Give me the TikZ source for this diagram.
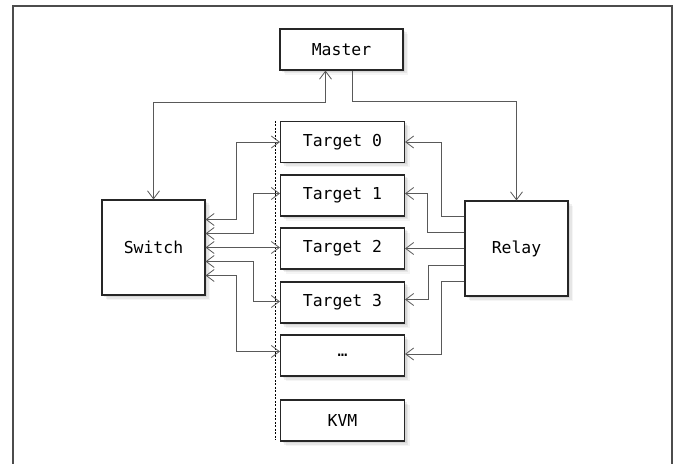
\documentclass[tikz,border=0pt]{standalone}
\usepackage{fontspec}
\setmonofont{DejaVu Sans Mono}
\usetikzlibrary{calc,arrows.meta,shadows}
\begin{document}
\begin{tikzpicture}[x=1bp,y=-1bp,
  box/.style={draw=black!85, line width=1.1bp, fill=white, inner sep=0pt,
    font=\ttfamily\fontsize{16.5}{19}\selectfont,
    drop shadow={opacity=0.08, shadow xshift=5bp, shadow yshift=-5bp},
    drop shadow={opacity=0.12, shadow xshift=3.5bp, shadow yshift=-3.5bp},
    drop shadow={opacity=0.15, shadow xshift=2bp, shadow yshift=-2bp}},
  tbox/.style={box, minimum width=124bp, minimum height=41bp},
  bigbox/.style={box, minimum width=103bp, minimum height=95bp},
  conn/.style={draw=black!65, line width=0.9bp, arrows={-{Straight Barb[length=8bp,width=12bp,line width=0.8bp]}}},
  conn2/.style={draw=black!65, line width=0.9bp, arrows={{Straight Barb[length=8bp,width=12bp,line width=0.8bp]}-{Straight Barb[length=8bp,width=12bp,line width=0.8bp]}}},
]
\useasboundingbox (0,0) rectangle (686,464);
\fill[white] (0,0) rectangle (686,464);
\draw[black!70, line width=1.4bp] (13,480) -- (13,6) -- (672,6) -- (672,480);

\node[box, minimum width=123bp, minimum height=41bp] (ma) at (341.5,49.5) {Master};
\node[tbox] (t0) at (342.5,142) {Target 0};
\node[tbox] (t1) at (342.5,195.5) {Target 1};
\node[tbox] (t2) at (342.5,248.5) {Target 2};
\node[tbox] (t3) at (342.5,302.5) {Target 3};
\node[tbox] (t4) at (342.5,355.5) {…};
\node[tbox] (kvm) at (342.5,420.5) {KVM};
\node[bigbox] (sw) at (153.5,247.5) {Switch};
\node[bigbox] (re) at (516.5,248.5) {Relay};

% dashed separator
\draw[black, line width=0.8bp, dash pattern=on 2bp off 1.5bp]
  ($(t0.north west)+(-5,0)$) -- ($(kvm.south west)+(-5,-2)$);

% master links
\draw[conn2] (sw.north) |- ($(ma.south)+(-16,32)$) -- ($(ma.south)+(-16,0)$);
\draw[conn] ($(ma.south)+(11,0)$) -- ($(ma.south)+(11,31)$) -| (re.north);

% switch links
\draw[conn2] ($(sw.east)+(0,-28)$) -| ($(t0.west)+(-44,0)$) -- (t0.west);
\draw[conn2] ($(sw.east)+(0,-14)$) -| ($(t1.west)+(-27,-2)$) -- ($(t1.west)+(0,-2)$);
\draw[conn2] (sw.east) -- (sw.east -| t2.west);
\draw[conn2] ($(sw.east)+(0,14)$) -| ($(t3.west)+(-27,-1)$) -- ($(t3.west)+(0,-1)$);
\draw[conn2] ($(sw.east)+(0,28)$) -| ($(t4.west)+(-44,-4)$) -- ($(t4.west)+(0,-4)$);

% relay links
\draw[conn] ($(re.west)+(0,-32)$) -| ($(t0.east)+(36,0)$) -- (t0.east);
\draw[conn] ($(re.west)+(0,-16)$) -| ($(t1.east)+(22.5,-2)$) -- ($(t1.east)+(0,-2)$);
\draw[conn] (re.west) -- (t2.east);
\draw[conn] ($(re.west)+(0,17)$) -| ($(t3.east)+(23.5,-3)$) -- ($(t3.east)+(0,-3)$);
\draw[conn] ($(re.west)+(0,33)$) -| ($(t4.east)+(36,-1.5)$) -- ($(t4.east)+(0,-1.5)$);
\end{tikzpicture}
\end{document}
